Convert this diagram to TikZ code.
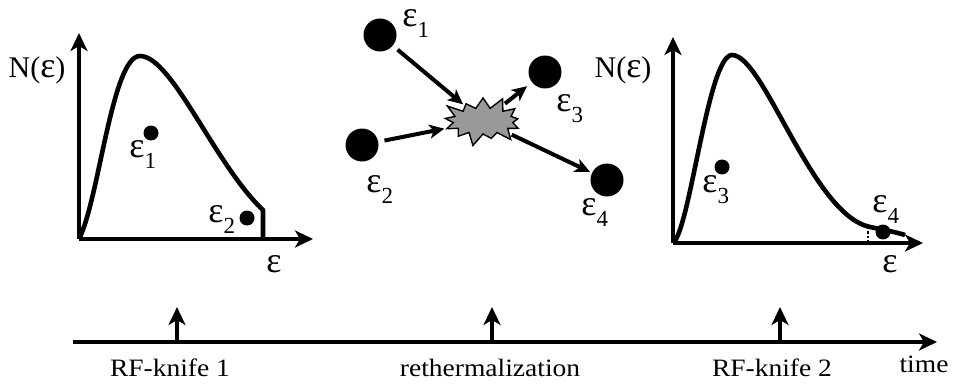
\documentclass[tikz,border=0pt]{standalone}
\usepackage{fontspec}
\setmainfont{Liberation Serif}
\newfontfamily\widefont[FakeStretch=1.1]{Liberation Serif}
\usetikzlibrary{arrows.meta, positioning, shapes.symbols}

\newcommand{\eps}{{\fontsize{18}{18}\selectfont ε}}
\newcommand{\epsn}[1]{\eps\raisebox{-5.5pt}{\fontsize{11.5}{12}\selectfont #1}}

\tikzset{
  font=\fontsize{15}{17}\selectfont,
  >={Stealth[length=9pt, width=8.5pt, inset=2.5pt]},
  %
  axis/.style={line width=2pt, ->},
  distr/.style={line width=2.3pt, line join=round},
  %
  ball/.style={circle, fill=black, inner sep=0pt, minimum size=16.5pt},
  atom/.style={circle, fill=black, inner sep=0pt, minimum size=7.5pt},
  burst/.style={starburst, starburst points=13, starburst point height=7pt,
    fill=black!40, draw=black, line width=0.7pt, inner sep=0pt,
    minimum width=44pt, minimum height=27pt},
  hit/.style={line width=2pt, -{Stealth[length=7.5pt, width=7pt, inset=2pt]}},
  %
  lbl/.style={inner sep=0pt, anchor=base west},
  timeline/.style={line width=2pt, ->},
  event/.style={line width=1.7pt, ->},
  evlbl/.style={font=\widefont\fontsize{12.5}{14}\selectfont, inner sep=0pt, anchor=base},
}

\begin{document}
\begin{tikzpicture}[x=0.5pt, y=-0.5pt]
  \useasboundingbox (0,0) rectangle (956,385);

  % distribution after the first RF-knife
  \coordinate (o1) at (79,239);
  \draw[axis] (o1) -- (79,33);
  \draw[axis] (o1) -- (313,239);
  \draw[distr] (o1) .. controls (99,200) and (112,56) .. (140,56)
    .. controls (172,56) and (215,165) .. (263,210) -- (263,239);
  \node[anchor=base] (ny1) at (37,77) {N(\eps)};
  \node[lbl] (ex1) at (266,272) {\eps};
  \node[atom] (a1) at (151,133) {};
  \node[atom] (a2) at (247,218) {};
  \node[lbl] (la1) at (129,157) {\epsn{1}};
  \node[lbl] (la2) at (208,222) {\epsn{2}};

  % collision
  \node[ball] (b1) at (380,35) {};
  \node[ball] (b2) at (362,145) {};
  \node[burst] (burst) at (483,121) {};
  \node[ball] (b3) at (545,72) {};
  \node[ball] (b4) at (607,180) {};
  \draw[hit, shorten <=3pt, shorten >=1pt] (b1) -- (burst);
  \draw[hit, shorten <=3pt, shorten >=1pt] (b2) -- (burst);
  \draw[hit, shorten <=1pt, shorten >=3pt] (burst) -- (b3);
  \draw[hit, shorten <=1pt, shorten >=1pt] (burst) -- (b4);
  \node[lbl] (lb1) at (402,27) {\epsn{1}};
  \node[lbl] (lb2) at (366,192) {\epsn{2}};
  \node[lbl] (lb3) at (556,112) {\epsn{3}};
  \node[lbl] (lb4) at (581,215) {\epsn{4}};

  % distribution after rethermalization
  \coordinate (o2) at (673,243);
  \draw[axis] (o2) -- (673,37);
  \draw[axis] (o2) -- (923,243);
  \draw[distr] (o2) .. controls (690,230) and (708,55) .. (732,55)
    .. controls (764,55) and (812,215) .. (870,227)
    .. controls (885,230) and (895,232) .. (905,235);
  \draw[densely dotted, line width=1.4pt] (868,226) -- (868,243);
  \node[anchor=base] (ny2) at (623,77) {N(\eps)};
  \node[lbl] (ex2) at (882,272) {\eps};
  \node[atom] (a3) at (722,167) {};
  \node[atom] (a4) at (883,232) {};
  \node[lbl] (la3) at (702,192) {\epsn{3}};
  \node[lbl] (la4) at (872,212) {\epsn{4}};

  % time axis
  \coordinate (t0) at (73,342);
  \draw[timeline] (t0) -- (937,342);
  \foreach \x/\lx/\name/\txt in {177/170/k1/RF-knife 1,
      492/490/k2/rethermalization, 780/772/k3/RF-knife 2} {
    \coordinate (\name) at (\x,342);
    \draw[event] (\name) -- ++(0,-35);
    \node[evlbl] (\name lbl) at (\lx,376) {\txt};
  }
  \node[evlbl] (tlbl) at (924,372) {time};

\end{tikzpicture}
\end{document}
